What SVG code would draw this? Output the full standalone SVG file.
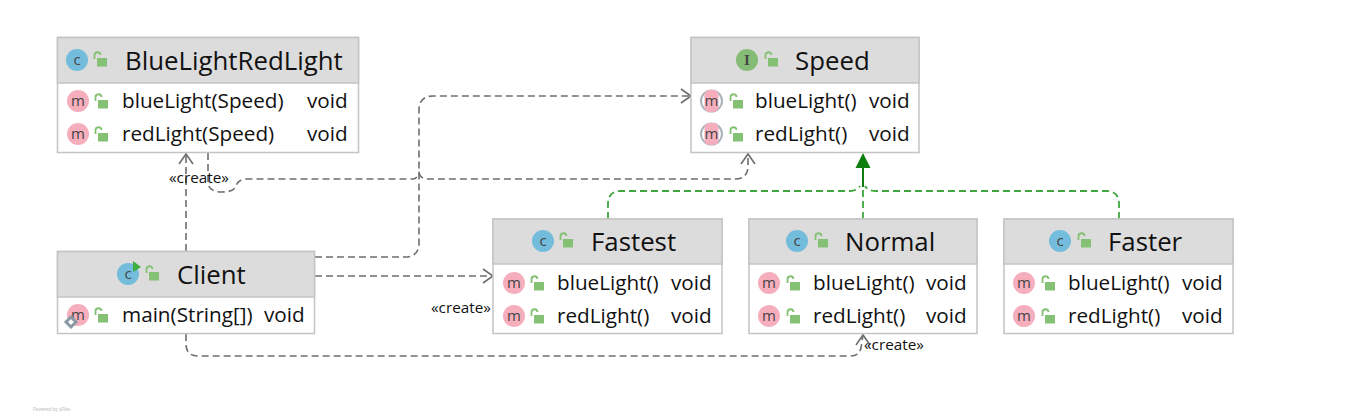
<svg xmlns="http://www.w3.org/2000/svg" width="1360" height="418" viewBox="0 0 1360 418">
<style>
text{font-family:"Open Sans","Noto Sans","DejaVu Sans",sans-serif;fill:#111}
.box{fill:#fff;stroke:#c4c4c4;stroke-width:1.5}
.hd{fill:#dcdcdc;stroke:#c4c4c4;stroke-width:1.5}
.t{font-size:25.800px}
.r{font-size:20.700px}
.l{font-size:15.300px}
.ic{font-size:15px;text-anchor:middle;fill:#444}
.cc{fill:#74bcdb}
.mm{fill:#f6aebc}
.ii{fill:#86bd76}
.mr{fill:#fff;stroke:#aab3bb;stroke-width:2}
.mp{fill:#f6aebc}
.g{fill:none;stroke:#6e6e6e;stroke-width:1.6;stroke-dasharray:7 4}
.gs{fill:none;stroke:#6e6e6e;stroke-width:1.6}
.v{fill:none;stroke:#3fa63f;stroke-width:1.8;stroke-dasharray:7 4}
</style>
<defs>
<g id="lock"><path d="M-5.500 -1V-4.500A3 3 0 0 1 0.500 -5" fill="none" stroke="#84c174" stroke-width="1.800"/><rect x="-3" y="-2" width="10" height="8.500" fill="#84c174"/></g>
<path id="open" d="M-7 10L0 0L7 10" class="gs"/>
</defs>
<g id="connectors">
<path class="g" d="M186 251V154"/>
<use href="#open" x="186" y="154"/>
<path class="g" d="M208 153V183Q209 192 222 192Q234 192 236 186Q238 179 247 179H413Q417 179 419 173Q421 179 427 179H735Q748 179 748 166V154"/>
<use href="#open" x="748" y="154"/>
<path class="g" d="M315 257H405Q419 257 419 243V110Q419 96 433 96H690"/>
<path class="gs" d="M681 89L691 96L681 103"/>
<path class="g" d="M315 276H492"/>
<path class="gs" d="M483 269L493 276L483 283"/>
<path class="g" d="M186 334V344Q186 356 198 356H851Q859 356 861 348L863 335"/>
<use href="#open" x="863" y="335"/>
<path class="v" d="M608 219V204Q608 191 621 191H850Q857 191 860 186"/>
<path class="v" d="M1119 219V204Q1119 191 1106 191H876Q868 191 865 186"/>
<path class="v" d="M863 219V187"/>
<path d="M863 187V165" fill="none" stroke="#0e7f0e" stroke-width="2"/>
<path d="M863 153L855.500 168H870.500Z" fill="#0e7f0e"/>
</g>
<g id="BlueLightRedLight">
<rect class="box" x="57.500" y="37.500" width="301" height="115"/>
<rect class="hd" x="57.500" y="37.500" width="301" height="45.500"/>
<circle class="cc" cx="77" cy="60" r="11"/><text class="ic" x="77" y="65">c</text>
<use href="#lock" x="100" y="60"/>
<text class="t" x="125" y="70">BlueLightRedLight</text>
<circle class="mm" cx="78" cy="101" r="11"/><text class="ic" x="78" y="106">m</text>
<use href="#lock" x="101" y="102"/>
<text class="r" x="122" y="108">blueLight(Speed)</text><text class="r" x="307" y="108">void</text>
<circle class="mm" cx="78" cy="134" r="11"/><text class="ic" x="78" y="139">m</text>
<use href="#lock" x="101" y="135"/>
<text class="r" x="122" y="141">redLight(Speed)</text><text class="r" x="307" y="141">void</text>
</g>
<g id="Speed">
<rect class="box" x="691" y="37.500" width="228" height="115"/>
<rect class="hd" x="691" y="37.500" width="228" height="45.500"/>
<circle class="ii" cx="747" cy="60" r="11"/><text class="ic" x="747" y="65" style="font-family:'Liberation Serif',serif;font-weight:700">I</text>
<use href="#lock" x="771" y="60"/>
<text class="t" x="795" y="70">Speed</text>
<circle class="mr" cx="711.500" cy="101" r="10.500"/><rect class="mp" x="704.500" y="90" width="14" height="22" rx="5"/><text class="ic" x="711.500" y="106">m</text>
<use href="#lock" x="736" y="102"/>
<text class="r" x="755" y="108">blueLight()</text><text class="r" x="869" y="108">void</text>
<circle class="mr" cx="711.500" cy="134" r="10.500"/><rect class="mp" x="704.500" y="123" width="14" height="22" rx="5"/><text class="ic" x="711.500" y="139">m</text>
<use href="#lock" x="736" y="135"/>
<text class="r" x="755" y="141">redLight()</text><text class="r" x="869" y="141">void</text>
</g>
<g id="Client">
<rect class="box" x="57.500" y="251.500" width="257" height="82"/>
<rect class="hd" x="57.500" y="251.500" width="257" height="45.500"/>
<circle class="cc" cx="128" cy="274" r="11"/><text class="ic" x="128" y="279">c</text>
<path d="M133 261L141 267L133 272Z" fill="#3fae3f"/>
<use href="#lock" x="152" y="274"/>
<text class="t" x="177" y="284">Client</text>
<circle class="mm" cx="78" cy="315" r="11"/><text class="ic" x="78" y="320">m</text>
<path d="M71 317L76 322L71 327L66 322Z" fill="#fff" stroke="#8a98a6" stroke-width="3"/>
<use href="#lock" x="101" y="316"/>
<text class="r" x="122" y="322">main(String[])</text><text class="r" x="264" y="322">void</text>
</g>
<g id="Fastest">
<rect class="box" x="493" y="219" width="229" height="114.500"/>
<rect class="hd" x="493" y="219" width="229" height="45"/>
<circle class="cc" cx="543" cy="241" r="11"/><text class="ic" x="543" y="246">c</text>
<use href="#lock" x="566" y="241"/>
<text class="t" x="591" y="251">Fastest</text>
<circle class="mm" cx="514" cy="283" r="11"/><text class="ic" x="514" y="288">m</text>
<use href="#lock" x="537" y="284"/>
<text class="r" x="557" y="290">blueLight()</text><text class="r" x="671" y="290">void</text>
<circle class="mm" cx="514" cy="316" r="11"/><text class="ic" x="514" y="321">m</text>
<use href="#lock" x="537" y="317"/>
<text class="r" x="557" y="323">redLight()</text><text class="r" x="671" y="323">void</text>
</g>
<g id="Normal">
<rect class="box" x="749" y="219" width="228" height="114.500"/>
<rect class="hd" x="749" y="219" width="228" height="45"/>
<circle class="cc" cx="797" cy="241" r="11"/><text class="ic" x="797" y="246">c</text>
<use href="#lock" x="821" y="241"/>
<text class="t" x="845" y="251">Normal</text>
<circle class="mm" cx="769" cy="283" r="11"/><text class="ic" x="769" y="288">m</text>
<use href="#lock" x="793" y="284"/>
<text class="r" x="813" y="290">blueLight()</text><text class="r" x="926" y="290">void</text>
<circle class="mm" cx="769" cy="316" r="11"/><text class="ic" x="769" y="321">m</text>
<use href="#lock" x="793" y="317"/>
<text class="r" x="813" y="323">redLight()</text><text class="r" x="926" y="323">void</text>
</g>
<g id="Faster">
<rect class="box" x="1004" y="219" width="229" height="114.500"/>
<rect class="hd" x="1004" y="219" width="229" height="45"/>
<circle class="cc" cx="1060" cy="241" r="11"/><text class="ic" x="1060" y="246">c</text>
<use href="#lock" x="1084" y="241"/>
<text class="t" x="1108" y="251">Faster</text>
<circle class="mm" cx="1024" cy="283" r="11"/><text class="ic" x="1024" y="288">m</text>
<use href="#lock" x="1048" y="284"/>
<text class="r" x="1068" y="290">blueLight()</text><text class="r" x="1182" y="290">void</text>
<circle class="mm" cx="1024" cy="316" r="11"/><text class="ic" x="1024" y="321">m</text>
<use href="#lock" x="1048" y="317"/>
<text class="r" x="1068" y="323">redLight()</text><text class="r" x="1182" y="323">void</text>
</g>
<g id="labels">
<text class="l" x="169" y="183">«create»</text>
<text class="l" x="431" y="313">«create»</text>
<text class="l" x="864" y="350">«create»</text>
<text x="33" y="411" style="font-size:4.500px;fill:#b5b5b5">Powered by yFiles</text>
</g>
</svg>
